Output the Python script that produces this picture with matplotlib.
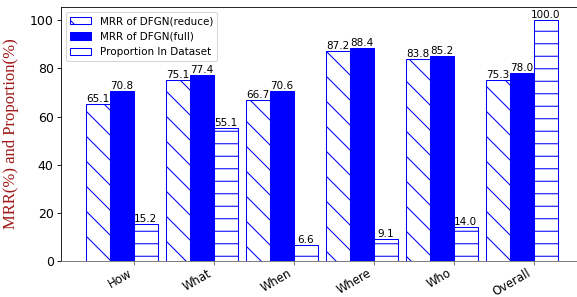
import matplotlib
matplotlib.use("Agg")
import matplotlib.pyplot as plt
import numpy as np

categories = ["How", "What", "When", "Where", "Who", "Overall"]
mrr_reduce = [65.1, 75.1, 66.7, 87.2, 83.8, 75.3]
mrr_full = [70.8, 77.4, 70.6, 88.4, 85.2, 78.0]
proportion = [15.2, 55.1, 6.6, 9.1, 14.0, 100.0]

fig = plt.figure(figsize=(577/75, 297/75), dpi=75)
ax = fig.add_axes([61/577, 1-261/297, 1.005-61/577, (261-7)/297])

x = np.arange(len(categories))
w = 0.3
b1 = ax.bar(x - 1.5*w, mrr_reduce, w, color='white', edgecolor='blue', hatch='\\', label='MRR of DFGN(reduce)', lw=1)
b2 = ax.bar(x - 0.5*w, mrr_full, w, color='blue', edgecolor='blue', label='MRR of DFGN(full)', lw=1)
b3 = ax.bar(x + 0.5*w, proportion, w, color='white', edgecolor='blue', hatch='-', label='Proportion In Dataset', lw=1)

for bars, vals in [(b1, mrr_reduce), (b2, mrr_full), (b3, proportion)]:
    for r, v in zip(bars, vals):
        ax.text(r.get_x() + r.get_width()/2, r.get_height(), f"{v:.1f}", ha='center', va='bottom', fontsize=10)

ax.set_xticks(x)
ax.set_xticklabels(categories, rotation=30, ha='right', fontsize=11.2)
ax.tick_params(axis='y', labelsize=12)
ax.tick_params(axis='x', color='#666666', pad=2)
ax.spines['bottom'].set_color('#666666')
ax.set_xlim(-0.9125, 5.58)
ax.set_ylim(0, 105.5)
ax.set_ylabel("MRR(%) and Proportion(%)", family='Liberation Serif', color='#a01818', fontsize=16)
ax.yaxis.set_label_coords(-0.081, 0.5)
ax.legend(loc='upper left', fontsize=10, handlelength=2.0)

fig.savefig("out.png", dpi=75)
